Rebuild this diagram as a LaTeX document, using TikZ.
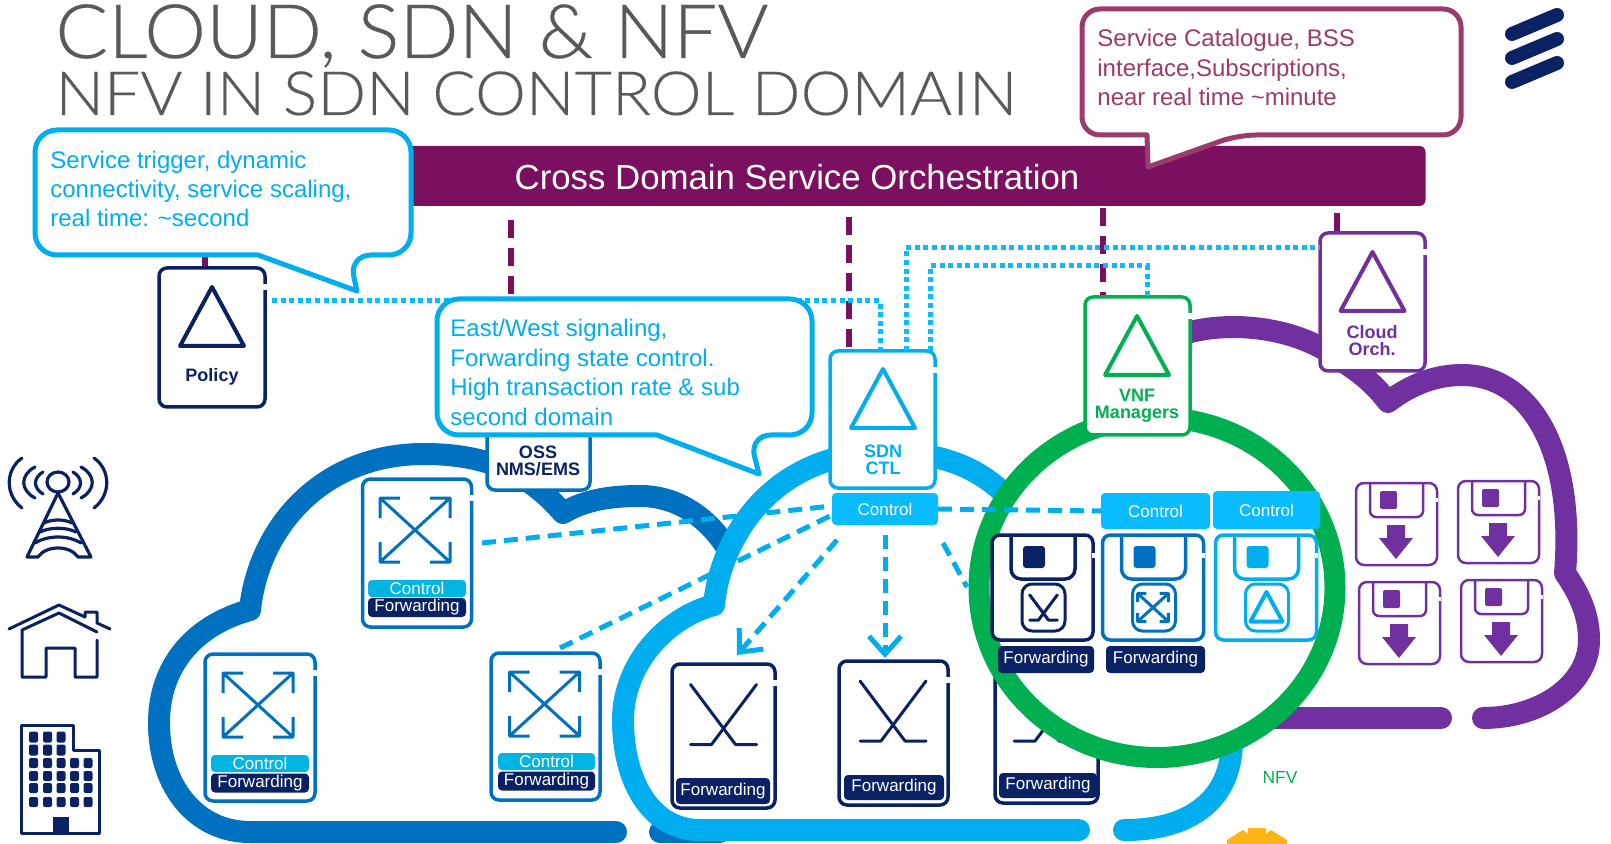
\documentclass[tikz,border=0pt]{standalone}
\usepackage{fontspec}
\usepackage{xcolor}
\usetikzlibrary{arrows.meta, calc}
\setmainfont{Liberation Sans}
\newfontfamily\titlefont[FakeStretch=1.04, FakeBold=0.4]{Lato Light}
\newfontfamily\subtitlefont[FakeStretch=1.055, FakeBold=0.2]{Lato Light}
\definecolor{navy}{HTML}{0A2263}
\definecolor{midblue}{HTML}{0070C0}
\definecolor{skyblue}{HTML}{00AEEF}
\definecolor{ctlblue}{HTML}{08BCFF}
\definecolor{barblue}{HTML}{00B5E2}
\definecolor{plum}{HTML}{7B1060}
\definecolor{rose}{HTML}{9B3B6C}
\definecolor{violet2}{HTML}{7030A0}
\definecolor{nfvgreen}{HTML}{00B050}
\definecolor{titlegrey}{HTML}{58595B}
\definecolor{sunyellow}{HTML}{FDB515}
\tikzset{
	cloudline/.style={line width=11pt, line cap=round, line join=round},
	tile/.style={draw, fill=white, line width=1.75pt, rounded corners=4pt, inner sep=0pt, outer sep=0pt},
	labelbar/.style={rounded corners=2pt, inner sep=0pt, outer sep=0pt, text=white, font=\fontsize{8.5}{10}\selectfont},
	boxtext/.style={font=\bfseries\fontsize{9}{8.6}\selectfont, align=center, inner sep=0pt},
	saytext/.style={anchor=west, align=left, inner sep=0pt, font=\fontsize{12}{14.7}\selectfont},
	saybox/.style={fill=white, line width=2.5pt, line join=round},
	orchdash/.style={plum, line width=3pt, dash pattern=on 9pt off 5pt},
	dotlink/.style={ctlblue, line width=2.5pt, dash pattern=on 2.5pt off 1.8pt},
	ctllink/.style={skyblue, line width=2.5pt, dash pattern=on 7pt off 4pt},
	ctlarrow/.style={ctllink, -{Straight Barb[length=9pt, width=16pt]}},
	pics/triangle/.style={code={\draw[#1, line width=2pt, line join=round] (0,0) -- (-32,59) -- (32,59) -- cycle;}},
	pics/crossarrows/.style={code={
		\draw[midblue, line width=1.5pt, line join=round] (-35,-32) -- (35,32) (35,-32) -- (-35,32)
			(-35,-12) -- (-35,-32) -- (-15,-32) (15,-32) -- (35,-32) -- (35,-12)
			(-35,12) -- (-35,32) -- (-15,32) (15,32) -- (35,32) -- (35,12);
	}},
	pics/sticks/.style={code={
		\draw[navy, line width=1.5pt, line cap=round, line join=round] (-33,-30) -- (12,30) -- (33,30) (33,-30) -- (-12,30) -- (-33,30);
	}},
	pics/diskbox/.style={code={
		\draw[#1, line width=1.75pt, fill=white, rounded corners=4pt] (0,0) rectangle (101,105);
		\draw[#1, line width=1.75pt, rounded corners=5pt] (19,0) -- (19,44) -- (83,44) -- (83,0);
		\fill[#1, rounded corners=1.5pt] (31,11) rectangle (53,33);
		\draw[#1, line width=1.5pt, rounded corners=5pt] (30,49) rectangle (73,96);
		\draw[white, line width=1.5pt] (101,18) -- (101,23);
	}},
	pics/purpledisk/.style={code={
		\draw[violet2, line width=1.25pt, rounded corners=4pt] (0,0) rectangle (81,82);
		\draw[violet2, line width=1.25pt, rounded corners=3pt] (14,0) -- (14,34) -- (67,34) -- (67,0);
		\fill[violet2, rounded corners=1pt] (24,8) rectangle (41,26);
		\fill[violet2, line join=round] (31,42) -- (49,42) -- (49,55) -- (57,55) -- (40,76) -- (23,55) -- (31,55) -- cycle;
		\draw[white, line width=1.25pt] (81,15) -- (81,19);
	}},
}

\begin{document}
\begin{tikzpicture}[x=0.5pt, y=-0.5pt]
	\useasboundingbox (0,0) rectangle (1611,844);

	\node[anchor=base west, inner sep=0pt, text=titlegrey, font=\titlefont\fontsize{37.5}{37.5}\selectfont] (title) at (55,58) {CLOUD, SDN \& NFV};
	\node[anchor=base west, inner sep=0pt, text=titlegrey, font=\subtitlefont\fontsize{30.5}{30.5}\selectfont] (subtitle) at (55,115) {NFV IN SDN CONTROL DOMAIN};

	\node[fill=plum, rounded corners=3pt, minimum width=510pt, minimum height=30pt, inner sep=0pt, outer sep=0pt] (orch) at (915.5,176) {};
	\node[text=white, inner sep=0pt, font=\fontsize{17.4}{20}\selectfont] (orchtext) at (797,177) {Cross Domain Service Orchestration};

	\draw[navy, line width=7pt, line cap=round] (1512,34) -- (1557,15) (1512,58) -- (1557,39) (1512,82) -- (1557,63);

	% clouds
	\draw[midblue, cloudline] (616,832) -- (250,832) .. controls (195,832) and (159,785) .. (159,723) .. controls (159,665) and (195,625) .. (250,610) .. controls (258,530) and (320,454) .. (424,454) .. controls (490,454) and (530,475) .. (563,513) .. controls (585,500) and (610,496) .. (640,496) .. controls (675,496) and (705,515) .. (725,545);
	\draw[midblue, cloudline] (660,832) -- (720,832);
	\draw[skyblue, cloudline] (1079,830) -- (700,830) .. controls (650,830) and (623,780) .. (623,720) .. controls (623,665) and (665,618) .. (714,605) .. controls (720,540) and (770,453) .. (885,452) .. controls (960,452) and (1000,480) .. (1030,525);
	\draw[skyblue, cloudline] (1124,830) -- (1125,830) .. controls (1190,830) and (1232,800) .. (1232,740);
	\draw[violet2, cloudline] (1180,335) .. controls (1225,320) and (1295,325) .. (1340,360) .. controls (1360,372) and (1375,385) .. (1388,402) .. controls (1410,385) and (1435,375) .. (1462,375) .. controls (1530,375) and (1575,450) .. (1565,573) .. controls (1580,595) and (1589,615) .. (1589,640) .. controls (1589,685) and (1540,718) .. (1483,718);
	\draw[violet2, cloudline] (1441,718) -- (1250,718);

	\node[tile, draw=navy, minimum width=51.5pt, minimum height=71pt] (fwdf) at (1046.5,732) {};
	\pic at (1047,711) {sticks};
	\node[labelbar, fill=navy, minimum width=49pt, minimum height=12.5pt] (fwdfbar) at (1048,785.5) {Forwarding};

	\draw[nfvgreen, line width=10.5pt, fill=white] (1157,587.5) ellipse [x radius=178, y radius=170];

	% links to orchestration
	\coordinate (stubpolicy) at (205,254);
	\coordinate (stuboss) at (511,220);
	\coordinate (stubsdn) at (849,217);
	\coordinate (stubvnf) at (1103,208);
	\coordinate (stuborch) at (1337,213);
	\draw[orchdash] (stubpolicy) -- (205,268);
	\draw[orchdash] (stuboss) -- (511,300);
	\draw[orchdash] (stubsdn) -- (849,351);
	\draw[orchdash] (stubvnf) -- (1103,297);
	\draw[plum, line width=3pt] (stuborch) -- (1337,233);

	% boxes
	\node[tile, draw=navy, minimum width=53pt, minimum height=69.5pt] (policy) at (212,337.5) {};
	\pic at (212,287) {triangle=navy};
	\node[boxtext, text=navy] (policytext) at (212,377) {Policy};

	\node[tile, draw=midblue, minimum width=51.5pt, minimum height=60pt] (oss) at (538.5,430) {};
	\node[boxtext, text=navy] (osstext) at (538,461) {OSS\\NMS/EMS};

	\node[tile, draw=skyblue, minimum width=52.5pt, minimum height=68.5pt] (sdn) at (882.5,419.5) {};
	\pic at (883,369) {triangle=skyblue};
	\node[boxtext, text=skyblue] (sdntext) at (883,459.5) {SDN\\CTL};
	\node[labelbar, fill=ctlblue, minimum width=53pt, minimum height=16pt] (sdnctl) at (885,509) {Control};

	\node[tile, draw=nfvgreen, minimum width=52.5pt, minimum height=69pt] (vnf) at (1137.5,366) {};
	\pic at (1137,316) {triangle=nfvgreen};
	\node[boxtext, text=nfvgreen] (vnftext) at (1137,405.5) {VNF\\Managers};

	\node[tile, draw=violet2, minimum width=52.5pt, minimum height=69pt] (cloudorch) at (1372.5,302) {};
	\pic at (1372.5,252) {triangle=violet2};
	\node[boxtext, text=violet2] (cloudtext) at (1372,340.5) {Cloud\\Orch.};

	\node[tile, draw=midblue, minimum width=54.5pt, minimum height=74pt] (swa) at (417,553) {};
	\pic at (415,530) {crossarrows};
	\node[labelbar, fill=barblue, minimum width=49pt, minimum height=8.5pt] (swactl) at (417,588.5) {Control};
	\node[labelbar, fill=navy, minimum width=49pt, minimum height=9.5pt] (swafwd) at (417,607.5) {Forwarding};

	\node[tile, draw=midblue, minimum width=55pt, minimum height=73.5pt] (swb) at (260,727.5) {};
	\pic at (258,705) {crossarrows};
	\node[labelbar, fill=barblue, minimum width=49pt, minimum height=8.5pt] (swbctl) at (260,763.5) {Control};
	\node[labelbar, fill=navy, minimum width=49pt, minimum height=9.5pt] (swbfwd) at (260,783) {Forwarding};

	\node[tile, draw=midblue, minimum width=54.5pt, minimum height=73.5pt] (swc) at (545.5,726.5) {};
	\pic at (544.5,704) {crossarrows};
	\node[labelbar, fill=barblue, minimum width=48.5pt, minimum height=8.5pt] (swcctl) at (546.5,761.5) {Control};
	\node[labelbar, fill=navy, minimum width=48.5pt, minimum height=9.5pt] (swcfwd) at (546.5,781) {Forwarding};

	\node[tile, draw=navy, minimum width=51.5pt, minimum height=72pt] (fwdd) at (723.5,736) {};
	\pic at (723.5,714.5) {sticks};
	\node[labelbar, fill=navy, minimum width=47pt, minimum height=13pt] (fwddbar) at (723,791) {Forwarding};

	\node[tile, draw=navy, minimum width=54.5pt, minimum height=72pt] (fwde) at (893.5,733) {};
	\pic at (893,711) {sticks};
	\node[labelbar, fill=navy, minimum width=50pt, minimum height=12.5pt] (fwdebar) at (894,787.5) {Forwarding};

	\foreach \b in {policy,sdn,vnf,cloudorch,swa,swb,swc,fwdd,fwde}
		\draw[white, line width=2pt] ($(\b.north east)+(0,16)$) -- ++(0,6);

	% nfv inside
	\node[labelbar, fill=ctlblue, minimum width=54.5pt, minimum height=18pt] (vnfctla) at (1155.5,511) {Control};
	\node[labelbar, fill=ctlblue, minimum width=53.5pt, minimum height=19pt] (vnfctlb) at (1266.5,510) {Control};
	\pic at (992,535) {diskbox=navy};
	\pic at (1102.5,535) {diskbox=midblue};
	\pic at (1215.5,535) {diskbox=skyblue};
	\pic[scale=0.42] at (1043.5,607.5) {sticks};
	\pic[scale=0.44] at (1153,607.5) {crossarrows};
	\pic[scale=0.5] at (1266.5,592) {triangle=skyblue};
	\node[labelbar, fill=navy, minimum width=48pt, minimum height=13.5pt] (vnffwda) at (1046,659.5) {Forwarding};
	\node[labelbar, fill=navy, minimum width=49.5pt, minimum height=13.5pt] (vnffwdb) at (1155.5,659.5) {Forwarding};
	\node[inner sep=0pt, text=nfvgreen, font=\fontsize{8.7}{10}\selectfont] (nfv) at (1280,778) {NFV};

	\pic at (1356,483) {purpledisk};
	\pic at (1458,481) {purpledisk};
	\pic at (1359,582) {purpledisk};
	\pic at (1461,580) {purpledisk};

	% control links
	\coordinate (swalink) at (482,543);
	\coordinate (swclink) at (560,648);
	\coordinate (fwddtip) at (737,655);
	\coordinate (fwdetip) at (885,658);
	\coordinate (fwdflink) at (967,587);
	\draw[ctllink] (swalink) -- ($(sdnctl.west)+(0,-3)$);
	\draw[ctllink] (swclink) -- ($(sdnctl.west)+(0,6)$);
	\draw[ctlarrow] (837,540) -- (fwddtip);
	\draw[ctlarrow] (885,535) -- (fwdetip);
	\draw[ctllink] (943,543) -- (fwdflink);
	\draw[ctllink] (sdnctl.east) -- (vnfctla.west);

	% dotted links
	\coordinate (dotpolicy) at (272,301);
	\coordinate (dotsdna) at (880,351);
	\coordinate (dotsdnb) at (906,351);
	\coordinate (dotsdnc) at (930,351);
	\draw[dotlink] (dotpolicy) -- (880,301) -- (dotsdna);
	\draw[dotlink] (dotsdnb) -- (906,248) -- (cloudorch.west |- 0,248);
	\draw[dotlink] (dotsdnc) -- (930,266) -- (1147,266) -- (1147,297);

	% callouts
	\draw[saybox, draw=rose, rounded corners=9pt] (1082,72) -- (1082,9) -- (1461,9) -- (1461,135) -- (1238,135) [sharp corners] -- (1148,167) -- (1147,135) [rounded corners=9pt] -- (1082,135) -- cycle;
	\node[saytext, text=rose] (catalogue) at (1097,67.5) {Service Catalogue, BSS\\interface,Subscriptions,\\near real time \textasciitilde minute};

	\draw[saybox, draw=skyblue, rounded corners=11pt] (35,190) -- (35,130) -- (411,130) -- (411,255) -- (349,255) [sharp corners] -- (357,291) -- (258,255) [rounded corners=11pt] -- (35,255) -- cycle;
	\node[saytext, text=skyblue] (trigger) at (50,189) {Service trigger, dynamic\\connectivity, service scaling,\\real time: \textasciitilde second};

	\draw[saybox, draw=skyblue, rounded corners=11pt] (437,365) -- (437,299) -- (812,299) -- (812,435) -- (749,435) [sharp corners] -- (759,474) -- (657,435) [rounded corners=11pt] -- (437,435) -- cycle;
	\node[saytext, text=skyblue] (eastwest) at (450,372.5) {East/West signaling,\\Forwarding state control.\\High transaction rate \& sub\\second domain};

	% tower
	\begin{scope}[navy, line width=1.6pt, line cap=round, line join=round]
		\draw (58,482) ellipse [x radius=11, y radius=10];
		\draw (22,458) .. controls (5,470) and (5,495) .. (22,508);
		\draw (35,467) .. controls (20,475) and (20,490) .. (35,498);
		\draw (43,472) .. controls (33,478) and (33,488) .. (43,494);
		\draw (94,458) .. controls (111,470) and (111,495) .. (94,508);
		\draw (81,467) .. controls (96,475) and (96,490) .. (81,498);
		\draw (73,472) .. controls (83,478) and (83,488) .. (73,494);
		\draw (58,493) -- (27,557) -- (38,557) .. controls (46,545) and (70,545) .. (78,557) -- (91,557) -- cycle;
		\draw (44,523) .. controls (52,519) and (64,519) .. (72,523);
		\draw (40,532) .. controls (50,527) and (66,527) .. (76,532);
		\draw (35,543) .. controls (48,535) and (68,535) .. (81,543);
	\end{scope}

	% house
	\begin{scope}[navy, line width=1.5pt, line cap=round, line join=round]
		\draw (9,629) -- (59,605) -- (85,617) -- (85,612) -- (97,612) -- (97,623) -- (110,629);
		\draw (97,640) -- (97,677) -- (75,677) -- (75,648) -- (46,648) -- (46,677) -- (22,677) -- (22,630) -- (59,613) -- (97,632);
	\end{scope}

	% building
	\draw[navy, line width=1.5pt, line join=round] (21,725) -- (73,725) -- (73,750) -- (99,750) -- (99,833) -- (21,833) -- cycle;
	\foreach \px in {33.5,47.5,61} \foreach \py in {737,750}
		\fill[navy, rounded corners=1pt] (\px-4.5,\py-5.5) rectangle (\px+4.5,\py+5.5);
	\foreach \px in {33.5,47.5,61,74.5,88} \foreach \py in {763,776,788,802}
		\fill[navy, rounded corners=1pt] (\px-4.5,\py-5) rectangle (\px+4.5,\py+5);
	\fill[navy] (53,817) rectangle (69,833);

	% sun
	\fill[sunyellow] (1227,844) -- (1227,840) -- (1243,830) -- (1248,834) -- (1248,828) -- (1266,828) -- (1266,834) -- (1271,830) -- (1287,840) -- (1287,844) -- cycle;
\end{tikzpicture}
\end{document}
